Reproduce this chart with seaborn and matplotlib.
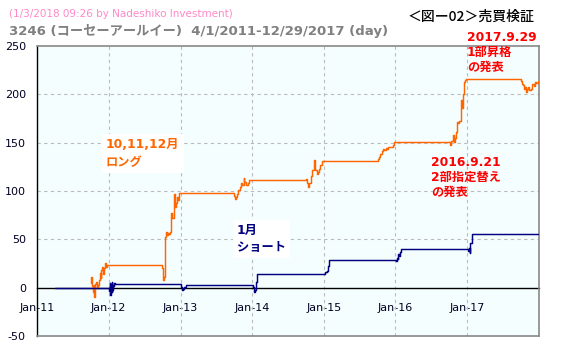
import matplotlib
matplotlib.use("Agg")
import matplotlib.pyplot as plt
import matplotlib.dates as mdates
import seaborn as sns
import pandas as pd

# ---- data ----
long_dates = ["2011-10-03", "2011-10-05", "2011-10-07", "2011-10-12", "2011-10-17", "2011-10-20",
              "2011-10-24", "2011-10-28", "2011-11-02", "2011-11-07", "2011-11-11", "2011-11-16",
              "2011-11-21", "2011-11-25", "2011-11-30", "2011-12-05", "2011-12-09", "2011-12-14",
              "2011-12-19", "2011-12-26",
              "2012-10-01", "2012-10-05", "2012-10-10", "2012-10-15", "2012-10-19", "2012-10-24",
              "2012-10-29", "2012-11-02", "2012-11-07", "2012-11-12", "2012-11-16", "2012-11-21",
              "2012-11-27", "2012-12-03", "2012-12-07", "2012-12-12", "2012-12-18", "2012-12-25",
              "2013-10-01", "2013-10-04", "2013-10-09", "2013-10-15", "2013-10-22", "2013-10-29",
              "2013-11-05", "2013-11-12", "2013-11-18", "2013-11-22", "2013-12-02", "2013-12-10",
              "2013-12-17", "2013-12-26",
              "2014-10-01", "2014-10-08", "2014-10-14", "2014-10-20", "2014-10-27", "2014-11-04",
              "2014-11-10", "2014-11-14", "2014-11-19", "2014-11-25", "2014-12-01", "2014-12-08",
              "2014-12-15", "2014-12-22",
              "2015-10-02", "2015-10-08", "2015-10-15", "2015-10-22", "2015-10-29", "2015-11-05",
              "2015-11-12", "2015-11-19", "2015-11-26", "2015-12-03", "2015-12-10", "2015-12-17",
              "2015-12-25",
              "2016-10-03", "2016-10-06", "2016-10-12", "2016-10-18", "2016-10-24", "2016-10-28",
              "2016-11-02", "2016-11-08", "2016-11-11", "2016-11-16", "2016-11-22", "2016-11-28",
              "2016-12-02", "2016-12-07", "2016-12-12", "2016-12-16", "2016-12-21", "2016-12-27",
              "2017-10-02", "2017-10-06", "2017-10-12", "2017-10-18", "2017-10-23", "2017-10-27",
              "2017-11-01", "2017-11-07", "2017-11-13", "2017-11-20", "2017-11-28", "2017-12-05",
              "2017-12-12", "2017-12-19", "2017-12-29"]
long_values = [5, 11, 2, -4, 3, -10,
               4, 6, 0, 3, 8, 15,
               10, 18, 21, 14, 20, 25,
               21, 23,
               20, 8, 11, 52, 58, 54,
               57, 55, 58, 60, 77, 72,
               97, 83, 88, 94, 91, 98,
               95, 92, 94, 97, 101, 104,
               108, 106, 113, 109.5, 106, 108,
               111, 111,
               112, 108, 104, 108, 116, 122,
               126, 132, 121.5, 118, 120, 123,
               127, 131.5,
               133, 135, 138, 141, 143, 142,
               144, 143, 145, 146, 145.7, 148,
               151,
               150, 147.5, 152, 158, 151, 155,
               161, 166, 171.6, 170, 172, 185,
               194, 186, 200, 213, 215, 215.5,
               214, 211, 209.6, 205, 208, 202.7,
               206, 208, 204, 206, 211, 209,
               213, 212, 214]

short_dates = ["2011-04-01",
               "2012-01-04", "2012-01-06", "2012-01-10", "2012-01-12", "2012-01-16", "2012-01-18",
               "2012-01-20", "2012-01-24", "2012-01-26", "2012-01-31",
               "2013-01-04", "2013-01-09", "2013-01-15", "2013-01-21", "2013-01-28",
               "2014-01-06", "2014-01-10", "2014-01-16", "2014-01-22", "2014-01-28",
               "2015-01-05", "2015-01-09", "2015-01-15", "2015-01-22", "2015-01-28",
               "2016-01-05", "2016-01-08", "2016-01-12", "2016-01-15", "2016-01-19", "2016-01-22",
               "2016-01-27",
               "2017-01-04", "2017-01-09", "2017-01-12", "2017-01-17", "2017-01-23", "2017-12-29"]
short_values = [0,
                -3, 5, -8, 3, -5, 6,
                -2, 2, 5, 4,
                1, -2, -1, 1, 3,
                1, -4.5, -2, 6, 13.8,
                15, 16, 17, 22, 28.3,
                28, 31, 30, 35, 33, 37,
                39.7,
                38, 41, 36, 46, 56, 56]

y_ticks = [-50, 0, 50, 100, 150, 200, 250]
x_tick_dates = ["2011-01-01", "2012-01-01", "2013-01-01", "2014-01-01",
                "2015-01-01", "2016-01-01", "2017-01-01"]

# ---- figure ----
sns.set_style("white")
plt.rcParams["font.family"] = ["DejaVu Sans", "Noto Sans CJK JP"]
plt.rcParams["axes.unicode_minus"] = False

W, H = 566, 349
fig = plt.figure(figsize=(W / 100, H / 100), dpi=100)
fig.patch.set_facecolor("white")
ax = fig.add_axes([37 / W, 1 - 336 / H, 502 / W, 290 / H])
ax.set_facecolor("#F4FEFE")

df_long = pd.DataFrame({"date": pd.to_datetime(long_dates), "value": long_values})
df_short = pd.DataFrame({"date": pd.to_datetime(short_dates), "value": short_values})

sns.lineplot(data=df_long, x="date", y="value", ax=ax, color="#FF6600", lw=1.05,
             drawstyle="steps-post", estimator=None, zorder=3)
sns.lineplot(data=df_short, x="date", y="value", ax=ax, color="#000080", lw=1.05,
             drawstyle="steps-post", estimator=None, zorder=4)

ax.set_xlim(pd.Timestamp("2011-01-01"), pd.Timestamp("2018-01-01"))
ax.set_ylim(-50, 250)
ax.set_yticks(y_ticks)
ax.set_xlabel("")
ax.set_ylabel("")

ax.set_xticks(pd.to_datetime(x_tick_dates))
ax.xaxis.set_major_formatter(mdates.DateFormatter("%b-%y"))
ax.xaxis.set_minor_locator(mdates.MonthLocator(bymonth=7))

# grid
for yv in y_ticks[2:-1]:
    ax.axhline(yv, color="#BBBBBB", lw=0.8, ls=(0, (3, 3)), zorder=1)
for xv in pd.to_datetime(x_tick_dates[1:]):
    ax.axvline(xv, color="#BBBBBB", lw=0.8, ls=(0, (3, 3)), zorder=1)

# spines
ax.spines["bottom"].set_position(("data", 0))
ax.spines["bottom"].set_color("black")
ax.spines["bottom"].set_linewidth(1.0)
ax.spines["bottom"].set_zorder(2)
ax.spines["left"].set_color("black")
ax.spines["left"].set_linewidth(1.0)
for s in ["top", "right"]:
    ax.spines[s].set_visible(True)
    ax.spines[s].set_color("#888888")
    ax.spines[s].set_linewidth(1.2)
ax.axhline(-50, color="#888888", lw=1.2, clip_on=False, zorder=5)

ax.tick_params(axis="x", which="major", length=0, pad=11, labelsize=8, labelcolor="#000022")
ax.tick_params(axis="x", which="minor", length=2.5, width=0.8, direction="out", color="black")
ax.tick_params(axis="y", which="major", length=0, pad=8, labelsize=8, labelcolor="#000022")


def px(x, y):
    return x / W, 1 - y / H


fig.text(*px(9, 14), "(1/3/2018 09:26 by Nadeshiko Investment)", color="#FF88C8",
         fontsize=7.5, va="center", ha="left")
fig.text(*px(9, 31), "3246 (コーセーアールイー)  4/1/2011-12/29/2017 (day)", color="#808080",
         fontsize=9.5, fontweight="bold", va="center", ha="left")
fig.text(*px(408, 17), "＜図ー02＞売買検証", color="black", fontsize=10,
         family=["Noto Sans CJK JP"], fontweight="medium", va="center", ha="left")

fig.text(*px(467, 31), "2017.9.29\n1部昇格\nの発表", color="#FF0000", fontsize=8.8,
         fontweight="bold", va="top", ha="left", linespacing=1.2)
fig.text(*px(431, 156), "2016.9.21\n2部指定替え\nの発表", color="#FF0000", fontsize=8.8,
         fontweight="bold", va="top", ha="left", linespacing=1.2)
fig.text(*px(106, 138), "10,11,12月\nロング", color="#FF6600", fontsize=8.8,
         fontweight="bold", va="top", ha="left", linespacing=1.45,
         bbox=dict(facecolor="white", edgecolor="none", pad=3))
fig.text(*px(237, 224), "1月\nショート", color="#000080", fontsize=8.8,
         fontweight="bold", va="top", ha="left", linespacing=1.4,
         bbox=dict(facecolor="white", edgecolor="none", pad=3))

fig.savefig("out.png", dpi=100, facecolor="white")
